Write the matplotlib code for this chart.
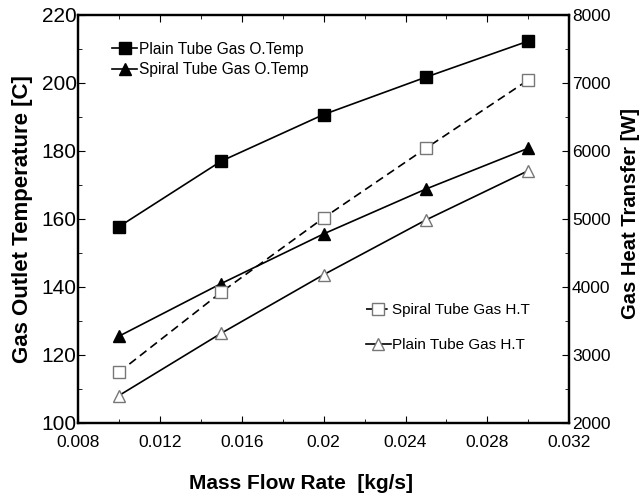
import numpy as np
import matplotlib
matplotlib.use("Agg")
import matplotlib.pyplot as plt
from matplotlib.ticker import MultipleLocator

plt.rcParams['font.family'] = ['Liberation Sans', 'DejaVu Sans']

mass_flow = [0.01, 0.015, 0.02, 0.025, 0.03]
plain_temp = [157.7, 177.0, 190.7, 201.7, 212.3]
spiral_temp = [125.5, 141.0, 155.6, 168.8, 180.8]
spiral_ht = [2745, 3922, 5015, 6040, 7044]
plain_ht = [2402, 3319, 4180, 4985, 5710]

fig, ax = plt.subplots(figsize=(6.44, 4.97), dpi=100)
fig.subplots_adjust(left=0.121, right=0.884, bottom=0.149, top=0.970)
ax2 = ax.twinx()

l1, = ax.plot(mass_flow, plain_temp, '-', color='black', lw=1.2, marker='s', ms=8.5,
              mfc='black', mec='black', label='Plain Tube Gas O.Temp')
l2, = ax.plot(mass_flow, spiral_temp, '-', color='black', lw=1.2, marker='^', ms=9,
              mfc='black', mec='black', label='Spiral Tube Gas O.Temp')
l3, = ax2.plot(mass_flow, spiral_ht, '--', color='black', lw=1.2, dashes=(5, 3), marker='s', ms=8.5,
               mfc='white', mec='#777777', mew=1.0, label='Spiral Tube Gas H.T')
l4, = ax2.plot(mass_flow, plain_ht, '-', color='black', lw=1.2, marker='^', ms=9,
               mfc='white', mec='#777777', mew=1.0, label='Plain Tube Gas H.T')

ax.set_xlim(0.008, 0.032)
ax.set_ylim(100, 220)
ax2.set_ylim(2000, 8000)

ax.xaxis.set_major_locator(MultipleLocator(0.004))
ax.xaxis.set_minor_locator(MultipleLocator(0.002))
ax.xaxis.set_major_formatter(plt.FuncFormatter(lambda v, p: f"{v:.3f}".rstrip('0')))
ax.yaxis.set_major_locator(MultipleLocator(20))
ax.yaxis.set_minor_locator(MultipleLocator(10))
ax2.yaxis.set_major_locator(MultipleLocator(1000))
ax2.yaxis.set_minor_locator(MultipleLocator(500))

for a in (ax, ax2):
    for s in a.spines.values():
        s.set_linewidth(1.6)
ax.tick_params(which='both', direction='in', top=True)
ax.tick_params(axis='x', labelsize=12.5, pad=9)
ax.tick_params(axis='y', labelsize=15, pad=1)
ax.tick_params(which='major', length=5)
ax.tick_params(which='minor', length=3)
ax2.tick_params(which='both', direction='in', labelsize=12.5, pad=2)
ax2.tick_params(which='major', length=5)
ax2.tick_params(which='minor', length=3)

ax.set_xlabel('Mass Flow Rate  [kg/s]', fontsize=15, fontweight='bold')
ax.xaxis.set_label_coords(0.454, -0.125)
ax.set_ylabel('Gas Outlet Temperature [C]', fontsize=16, fontweight='bold')
ax.yaxis.set_label_coords(-0.092, 0.5)
ax2.set_ylabel('Gas Heat Transfer [W]', fontsize=14.5, fontweight='bold')
ax2.yaxis.set_label_coords(1.106, 0.513)

ax.legend(handles=[l1, l2], loc='upper left', bbox_to_anchor=(0.057, 0.949), frameon=False,
          fontsize=11.2, handlelength=1.6, handletextpad=0.1, labelspacing=0.35, borderaxespad=0)
ax2.legend(handles=[l3, l4], loc='upper left', bbox_to_anchor=(0.574, 0.309), frameon=False,
           fontsize=11, handlelength=1.6, handletextpad=0.1, labelspacing=1.4, borderaxespad=0)

plt.savefig('out.png', dpi=100)
